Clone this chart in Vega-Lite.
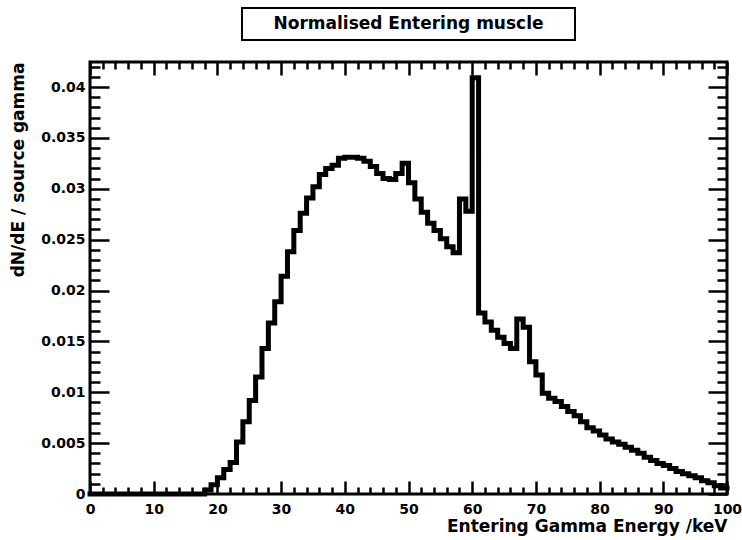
{
  "$schema": "https://vega.github.io/schema/vega-lite/v6.json",
  "autosize": {"type": "pad"},
  "padding": {"left": 8, "top": 7, "right": 0, "bottom": 0},
  "background": "white",
  "config": {"font": "DejaVu Sans"},
  "bounds": "flush",
  "center": true,
  "spacing": 22,
  "datasets": {
    "hist": [
      {"E": 0, "n": 0}, {"E": 1, "n": 0}, {"E": 2, "n": 0}, {"E": 3, "n": 0}, {"E": 4, "n": 0},
      {"E": 5, "n": 0}, {"E": 6, "n": 0}, {"E": 7, "n": 0}, {"E": 8, "n": 0}, {"E": 9, "n": 0},
      {"E": 10, "n": 0}, {"E": 11, "n": 0}, {"E": 12, "n": 0}, {"E": 13, "n": 0}, {"E": 14, "n": 0},
      {"E": 15, "n": 0}, {"E": 16, "n": 0}, {"E": 17, "n": 0}, {"E": 18, "n": 0.0004}, {"E": 19, "n": 0.0009},
      {"E": 20, "n": 0.0016}, {"E": 21, "n": 0.0024}, {"E": 22, "n": 0.0031}, {"E": 23, "n": 0.0051}, {"E": 24, "n": 0.0071},
      {"E": 25, "n": 0.0092}, {"E": 26, "n": 0.0115}, {"E": 27, "n": 0.0143}, {"E": 28, "n": 0.0168}, {"E": 29, "n": 0.0189},
      {"E": 30, "n": 0.0214}, {"E": 31, "n": 0.0238}, {"E": 32, "n": 0.0259}, {"E": 33, "n": 0.0276}, {"E": 34, "n": 0.0291},
      {"E": 35, "n": 0.0302}, {"E": 36, "n": 0.0314}, {"E": 37, "n": 0.0320}, {"E": 38, "n": 0.0323}, {"E": 39, "n": 0.0330},
      {"E": 40, "n": 0.0331}, {"E": 41, "n": 0.0331}, {"E": 42, "n": 0.0330}, {"E": 43, "n": 0.0327}, {"E": 44, "n": 0.0322},
      {"E": 45, "n": 0.0315}, {"E": 46, "n": 0.0310}, {"E": 47, "n": 0.0309}, {"E": 48, "n": 0.0315}, {"E": 49, "n": 0.0325},
      {"E": 50, "n": 0.0306}, {"E": 51, "n": 0.0290}, {"E": 52, "n": 0.0277}, {"E": 53, "n": 0.0266}, {"E": 54, "n": 0.0259},
      {"E": 55, "n": 0.0251}, {"E": 56, "n": 0.0243}, {"E": 57, "n": 0.0237}, {"E": 58, "n": 0.0290}, {"E": 59, "n": 0.0278},
      {"E": 60, "n": 0.0409}, {"E": 61, "n": 0.0178}, {"E": 62, "n": 0.0169}, {"E": 63, "n": 0.0161}, {"E": 64, "n": 0.0154},
      {"E": 65, "n": 0.0148}, {"E": 66, "n": 0.0143}, {"E": 67, "n": 0.0172}, {"E": 68, "n": 0.0164}, {"E": 69, "n": 0.0130},
      {"E": 70, "n": 0.0117}, {"E": 71, "n": 0.0099}, {"E": 72, "n": 0.0094}, {"E": 73, "n": 0.0091}, {"E": 74, "n": 0.0086},
      {"E": 75, "n": 0.0081}, {"E": 76, "n": 0.0077}, {"E": 77, "n": 0.0071}, {"E": 78, "n": 0.0065}, {"E": 79, "n": 0.0062},
      {"E": 80, "n": 0.0058}, {"E": 81, "n": 0.0054}, {"E": 82, "n": 0.0051}, {"E": 83, "n": 0.0049}, {"E": 84, "n": 0.0046},
      {"E": 85, "n": 0.0043}, {"E": 86, "n": 0.0040}, {"E": 87, "n": 0.0036}, {"E": 88, "n": 0.0033}, {"E": 89, "n": 0.0030},
      {"E": 90, "n": 0.0028}, {"E": 91, "n": 0.0025}, {"E": 92, "n": 0.0022}, {"E": 93, "n": 0.0020}, {"E": 94, "n": 0.0018},
      {"E": 95, "n": 0.0016}, {"E": 96, "n": 0.0013}, {"E": 97, "n": 0.0011}, {"E": 98, "n": 0.0008}, {"E": 99, "n": 0.0006},
      {"E": 100, "n": 0.0006}
    ],
    "titletext": [{"t": "Normalised Entering muscle"}]
  },
  "vconcat": [
    {
      "width": 333,
      "height": 32,
      "data": {"name": "titletext"},
      "view": {"stroke": "black", "strokeWidth": 2, "fill": "white"},
      "mark": {"type": "text", "font": "DejaVu Sans", "fontWeight": "bold", "fontSize": 17, "color": "black"},
      "encoding": {"text": {"field": "t", "type": "nominal"}}
    },
    {
      "width": 637,
      "height": 432,
      "data": {"name": "hist"},
      "view": {"stroke": "black", "strokeWidth": 3},
      "layer": [
        {
          "mark": {"type": "line", "interpolate": "step-after", "color": "black", "strokeWidth": 5, "strokeJoin": "miter", "strokeCap": "square"},
          "encoding": {
            "x": {"field": "E", "type": "quantitative",
              "scale": {"domain": [0, 100], "nice": false, "zero": false},
              "axis": {"orient": "bottom", "values": [0, 10, 20, 30, 40, 50, 60, 70, 80, 90, 100], "zindex": 1,
                "ticks": true, "tickSize": 13, "offset": -13, "tickColor": "black", "tickWidth": 2.5, "domain": false, "grid": false,
                "labelFont": "DejaVu Sans", "labelFontWeight": "bold", "labelFontSize": 14, "labelColor": "black", "labelPadding": 8,
                "labelFlush": false, "labelOverlap": false,
                "title": "Entering Gamma Energy /keV", "titleFont": "DejaVu Sans", "titleFontWeight": "bold", "titleFontSize": 17,
                "titleColor": "black", "titleAnchor": "end", "titlePadding": 2}},
            "y": {"field": "n", "type": "quantitative",
              "scale": {"domain": [0, 0.04246], "nice": false, "zero": false},
              "axis": {"orient": "left", "values": [0, 0.005, 0.01, 0.015, 0.02, 0.025, 0.03, 0.035, 0.04], "format": "~g", "zindex": 1,
                "ticks": true, "tickSize": 19, "offset": -19, "tickColor": "black", "tickWidth": 2.5, "domain": false, "grid": false,
                "labelFont": "DejaVu Sans", "labelFontWeight": "bold", "labelFontSize": 14, "labelColor": "black", "labelPadding": 5,
                "labelFlush": false, "labelOverlap": false,
                "title": "dN/dE / source gamma", "titleFont": "DejaVu Sans", "titleFontWeight": "bold", "titleFontSize": 17,
                "titleColor": "black", "titleAnchor": "end", "titlePadding": 13}}
          }
        },
        {
          "mark": {"type": "line", "opacity": 0},
          "encoding": {
            "x": {"field": "E", "type": "quantitative",
              "axis": {"orient": "bottom", "values": [2,4,6,8,12,14,16,18,22,24,26,28,32,34,36,38,42,44,46,48,52,54,56,58,62,64,66,68,72,74,76,78,82,84,86,88,92,94,96,98], "zindex": 1,
                "labels": true, "labelExpr": "''", "title": null, "domain": false, "grid": false, "ticks": true, "tickSize": 7, "offset": -7, "tickColor": "black", "tickWidth": 2.5}},
            "y": {"field": "n", "type": "quantitative",
              "axis": {"orient": "left", "values": [0.001,0.002,0.003,0.004,0.006,0.007,0.008,0.009,0.011,0.012,0.013,0.014,0.016,0.017,0.018,0.019,0.021,0.022,0.023,0.024,0.026,0.027,0.028,0.029,0.031,0.032,0.033,0.034,0.036,0.037,0.038,0.039,0.041,0.042], "zindex": 1,
                "labels": true, "labelExpr": "''", "title": null, "domain": false, "grid": false, "ticks": true, "tickSize": 10, "offset": -10, "tickColor": "black", "tickWidth": 2.5}}
          }
        },
        {
          "mark": {"type": "line", "opacity": 0},
          "encoding": {
            "x": {"field": "E", "type": "quantitative",
              "axis": {"orient": "top", "values": [0,10,20,30,40,50,60,70,80,90,100], "zindex": 1,
                "labels": true, "labelExpr": "''", "title": null, "domain": false, "grid": false, "ticks": true, "tickSize": 13, "offset": -13, "tickColor": "black", "tickWidth": 2.5}},
            "y": {"field": "n", "type": "quantitative",
              "axis": {"orient": "right", "values": [0,0.005,0.01,0.015,0.02,0.025,0.03,0.035,0.04], "zindex": 1,
                "labels": true, "labelExpr": "''", "title": null, "domain": false, "grid": false, "ticks": true, "tickSize": 19, "offset": -19, "tickColor": "black", "tickWidth": 2.5}}
          }
        },
        {
          "mark": {"type": "line", "opacity": 0},
          "encoding": {
            "x": {"field": "E", "type": "quantitative",
              "axis": {"orient": "top", "values": [2,4,6,8,12,14,16,18,22,24,26,28,32,34,36,38,42,44,46,48,52,54,56,58,62,64,66,68,72,74,76,78,82,84,86,88,92,94,96,98], "zindex": 1,
                "labels": true, "labelExpr": "''", "title": null, "domain": false, "grid": false, "ticks": true, "tickSize": 7, "offset": -7, "tickColor": "black", "tickWidth": 2.5}},
            "y": {"field": "n", "type": "quantitative",
              "axis": {"orient": "right", "values": [0.001,0.002,0.003,0.004,0.006,0.007,0.008,0.009,0.011,0.012,0.013,0.014,0.016,0.017,0.018,0.019,0.021,0.022,0.023,0.024,0.026,0.027,0.028,0.029,0.031,0.032,0.033,0.034,0.036,0.037,0.038,0.039,0.041,0.042], "zindex": 1,
                "labels": true, "labelExpr": "''", "title": null, "domain": false, "grid": false, "ticks": true, "tickSize": 10, "offset": -10, "tickColor": "black", "tickWidth": 2.5}}
          }
        }
      ],
      "resolve": {"axis": {"x": "independent", "y": "independent"}}
    }
  ]
}
